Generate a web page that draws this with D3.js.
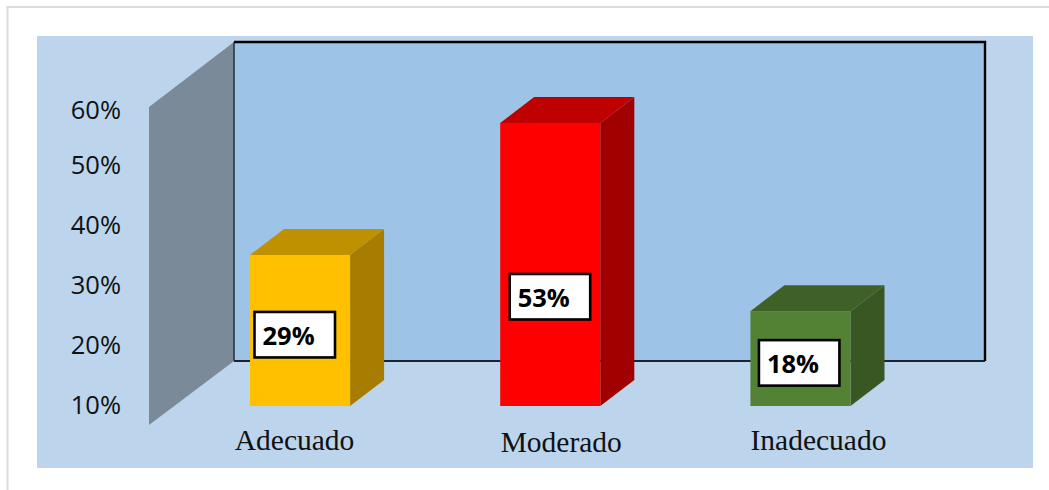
<!DOCTYPE html>
<html>
<head>
<meta charset="utf-8">
<script src="https://cdn.jsdelivr.net/npm/d3@7"></script>
<style>
html,body{margin:0;padding:0;background:#fff;overflow:hidden}
svg{display:block}
</style>
</head>
<body>
<div id="chart"></div>
<script>
const categories = ["Adecuado", "Moderado", "Inadecuado"];
// bar heights as drawn in the picture (the printed labels are rounded by hand)
const values = [28.5, 53.4, 17.9];
const valueLabels = ["29%", "53%", "18%"];
const tickValues = [10, 20, 30, 40, 50, 60];
const tickLabels = ["10%", "20%", "30%", "40%", "50%", "60%"];
const frontColors = ["#FFC000", "#FF0000", "#548235"];
const topColors = ["#BF9000", "#BF0000", "#3F6128"];
const sideColors = ["#A67D00", "#A00000", "#385723"];

const W = 1049, H = 490;
const depth = {dx: 34, dy: -26};
const y = d3.scaleLinear().domain([0, 60]).range([406, 88]);
const x = d3.scaleBand().domain(categories).range([250, 850.5]).paddingInner(0.6).paddingOuter(0);
// the tick labels of the source are unevenly spaced
const yLabel = d3.scaleLinear().domain([10, 50, 60]).range([405, 165, 110]);

const svg = d3.select("#chart").append("svg").attr("width", W).attr("height", H);

// page frame
svg.append("path").attr("d", `M7.5,${H}V7H${W}`).attr("fill", "none").attr("stroke", "#dcdcdc").attr("stroke-width", 2);
// chart area
svg.append("rect").attr("x", 37).attr("y", 36).attr("width", 996).attr("height", 432).attr("fill", "#BCD5EC");

// back wall
const wall = {x0: 234, x1: 985, top: y(60) - 46, bottom: y(0) - 45};
svg.append("rect").attr("x", wall.x0).attr("y", wall.top).attr("width", wall.x1 - wall.x0).attr("height", wall.bottom - wall.top).attr("fill", "#9DC3E6");
// side wall
svg.append("path")
  .attr("d", `M149,${y(60) + 19}L${wall.x0},${wall.top}V${wall.bottom}L149,${y(0) + 19}Z`)
  .attr("fill", "#7A8A99");
// wall outline
svg.append("path").attr("d", `M${wall.x0},${wall.bottom}H${wall.x1}`).attr("stroke", "#1c2430").attr("stroke-width", 2).attr("fill", "none");
svg.append("path").attr("d", `M${wall.x0},${wall.bottom}V${wall.top}`).attr("stroke", "#2c3540").attr("stroke-width", 1.6).attr("fill", "none");
svg.append("path").attr("d", `M${wall.x0},${wall.top}H${wall.x1}V${wall.bottom}`).attr("stroke", "#000").attr("stroke-width", 2.4).attr("fill", "none");

// axis labels
svg.append("g").selectAll("text").data(tickValues).join("text")
  .attr("x", 121).attr("y", d => yLabel(d))
  .attr("dy", "0.36em")
  .attr("text-anchor", "end")
  .attr("font-family", "'Open Sans', sans-serif")
  .attr("font-size", 25.5)
  .attr("fill", "#111")
  .text((d, i) => tickLabels[i]);

// bars
const bars = svg.append("g").selectAll("g").data(categories).join("g");
const bw = x.bandwidth();
bars.append("path").attr("fill", (d, i) => sideColors[i])
  .attr("d", (d, i) => {
    const l = x(d) + bw, t = y(values[i]), b = y(0);
    return `M${l},${t}L${l + depth.dx},${t + depth.dy}V${b + depth.dy}L${l},${b}Z`;
  });
bars.append("path").attr("fill", (d, i) => topColors[i])
  .attr("d", (d, i) => {
    const l = x(d), t = y(values[i]);
    return `M${l},${t}L${l + depth.dx},${t + depth.dy}H${l + bw + depth.dx}L${l + bw},${t}Z`;
  });
bars.append("rect").attr("fill", (d, i) => frontColors[i])
  .attr("x", d => x(d)).attr("width", bw)
  .attr("y", (d, i) => y(values[i])).attr("height", (d, i) => y(0) - y(values[i]));

// value labels (hand-placed in the source, given relative to each bar)
const boxDx = [4.5, 9.5, 8.5], boxDy = [57, 151, 29];
const boxW = 80.5, boxH = 45.5;
const lab = svg.append("g").selectAll("g").data(categories).join("g")
  .attr("transform", (d, i) => `translate(${x(d) + boxDx[i]},${y(values[i]) + boxDy[i]})`);
lab.append("rect").attr("width", boxW).attr("height", boxH).attr("fill", "#fff").attr("stroke", "#000").attr("stroke-width", 2.6);
lab.append("text").attr("x", 8).attr("y", 33)
  .attr("font-family", "'Open Sans', sans-serif").attr("font-weight", 700).attr("font-size", 25.5).attr("fill", "#000")
  .text((d, i) => valueLabels[i]);

// category labels
const catDx = [-5.5, 11, 18], catY = [450, 452, 450];
svg.append("g").selectAll("text").data(categories).join("text")
  .attr("x", (d, i) => x(d) + bw / 2 + catDx[i])
  .attr("y", (d, i) => catY[i])
  .attr("text-anchor", "middle")
  .attr("font-family", "'Liberation Serif', serif")
  .attr("font-size", 29.5)
  .attr("fill", "#111")
  .text(d => d);
</script>
</body>
</html>
